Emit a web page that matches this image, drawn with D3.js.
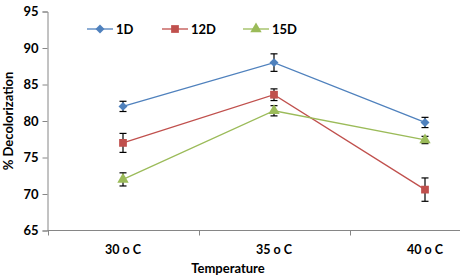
<!DOCTYPE html>
<html>
<head>
<meta charset="utf-8">
<script src="https://cdn.jsdelivr.net/npm/d3@7"></script>
<style>
  body { margin: 0; background: #fff; }
  text { font-family: Lato, "Open Sans", sans-serif; font-weight: bold; fill: #000; }
</style>
</head>
<body>
<svg id="chart"></svg>
<script>
// % decolorization by temperature
const temps = ["30 o C", "35 o C", "40 o C"];
const seriesNames = ["1D", "12D", "15D"];
const d1 = [82.0, 88.0, 79.8];
const d12 = [77.0, 83.6, 70.6];
const d15 = [72.0, 81.4, 77.4];
const err1 = [0.7, 1.2, 0.7];
const err12 = [1.3, 0.8, 1.6];
const err15 = [0.9, 0.7, 0.5];
const yTicks = [65, 70, 75, 80, 85, 90, 95];

const width = 460, height = 278;
const colors = ["#4F81BD", "#C0504D", "#9BBB59"];
const symbols = [d3.symbolSquare, d3.symbolSquare, d3.symbolTriangle];
const symSizes = [40, 60, 56];
const symRot = [45, 0, 0];

const svg = d3.select("#chart").attr("width", width).attr("height", height);

const x = d3.scaleBand().domain(temps).range([47.5, 500.5]);
const y = d3.scaleLinear().domain([65, 95]).range([230.5, 11.5]);

// y axis
const yAxis = svg.append("g")
    .attr("transform", "translate(47.5,0)")
    .call(d3.axisLeft(y).tickValues(yTicks).tickSize(5).tickPadding(4));
yAxis.selectAll("text").style("font-size", "13px");

// x axis
const xAxis = svg.append("g")
    .attr("transform", "translate(0,230.5)");
xAxis.append("line")
    .attr("x1", 47.5).attr("x2", width)
    .attr("stroke", "#868686");
xAxis.selectAll(".tk")
    .data(temps.map(t => x(t)).concat([x.range()[1]]))
    .enter().append("line")
    .attr("x1", d => Math.round(d) + 0.5).attr("x2", d => Math.round(d) + 0.5)
    .attr("y1", 0).attr("y2", 5)
    .attr("stroke", "#868686");
xAxis.selectAll(".lbl")
    .data(temps)
    .enter().append("text")
    .attr("x", d => x(d) + x.bandwidth() / 2)
    .attr("y", 23)
    .attr("text-anchor", "middle")
    .style("font-size", "12.5px")
    .text(d => d);

yAxis.select(".domain").attr("stroke", "#868686");
yAxis.selectAll(".tick line").attr("stroke", "#868686");

svg.append("text")
    .attr("x", 228).attr("y", 273)
    .attr("text-anchor", "middle")
    .style("font-size", "13px")
    .text("Temperature");

svg.append("text")
    .attr("transform", "translate(13,121) rotate(-90)")
    .attr("text-anchor", "middle")
    .style("font-size", "13px")
    .text("% Decolorization");

const allSeries = [d1, d12, d15];
const allErr = [err1, err12, err15];
const cx = t => x(t) + x.bandwidth() / 2;

const line = d3.line()
    .x(d => cx(d.t))
    .y(d => y(d.v));

allSeries.forEach(function (vals, i) {
    const pts = temps.map((t, j) => ({ t: t, v: vals[j], e: allErr[i][j] }));

    svg.append("path")
        .datum(pts)
        .attr("fill", "none")
        .attr("stroke", colors[i])
        .attr("stroke-width", 1.3)
        .attr("d", line);

    const eb = svg.append("g");
    pts.forEach(function (p) {
        eb.append("line")
            .attr("x1", cx(p.t)).attr("x2", cx(p.t))
            .attr("y1", y(p.v + p.e)).attr("y2", y(p.v - p.e))
            .attr("stroke", "#000").attr("stroke-width", 1.2);
        [p.v + p.e, p.v - p.e].forEach(function (ev) {
            eb.append("line")
                .attr("x1", cx(p.t) - 3.5).attr("x2", cx(p.t) + 3.5)
                .attr("y1", y(ev)).attr("y2", y(ev))
                .attr("stroke", "#000").attr("stroke-width", 1.2);
        });
    });

    svg.selectAll(`.m${i}`)
        .data(pts)
        .enter().append("path")
        .attr("class", `m${i}`)
        .attr("transform", d => `translate(${cx(d.t)},${y(d.v)}) rotate(${symRot[i]})`)
        .attr("d", d3.symbol().type(symbols[i]).size(symSizes[i]))
        .attr("fill", colors[i]);
});

// legend
const legendX = [87, 162, 243];
const legend = svg.selectAll(".legend")
    .data(seriesNames)
    .enter().append("g")
    .attr("class", "legend")
    .attr("transform", (d, i) => `translate(${legendX[i]},29)`);

legend.append("line")
    .attr("x1", 0).attr("x2", 26)
    .attr("stroke", (d, i) => colors[i])
    .attr("stroke-width", 1.3);

legend.append("path")
    .attr("transform", (d, i) => `translate(13,0) rotate(${symRot[i]})`)
    .attr("d", (d, i) => d3.symbol().type(symbols[i]).size(symSizes[i])())
    .attr("fill", (d, i) => colors[i]);

legend.append("text")
    .attr("x", 29)
    .attr("dy", "0.35em")
    .style("font-size", "13px")
    .text(d => d);
</script>
</body>
</html>
